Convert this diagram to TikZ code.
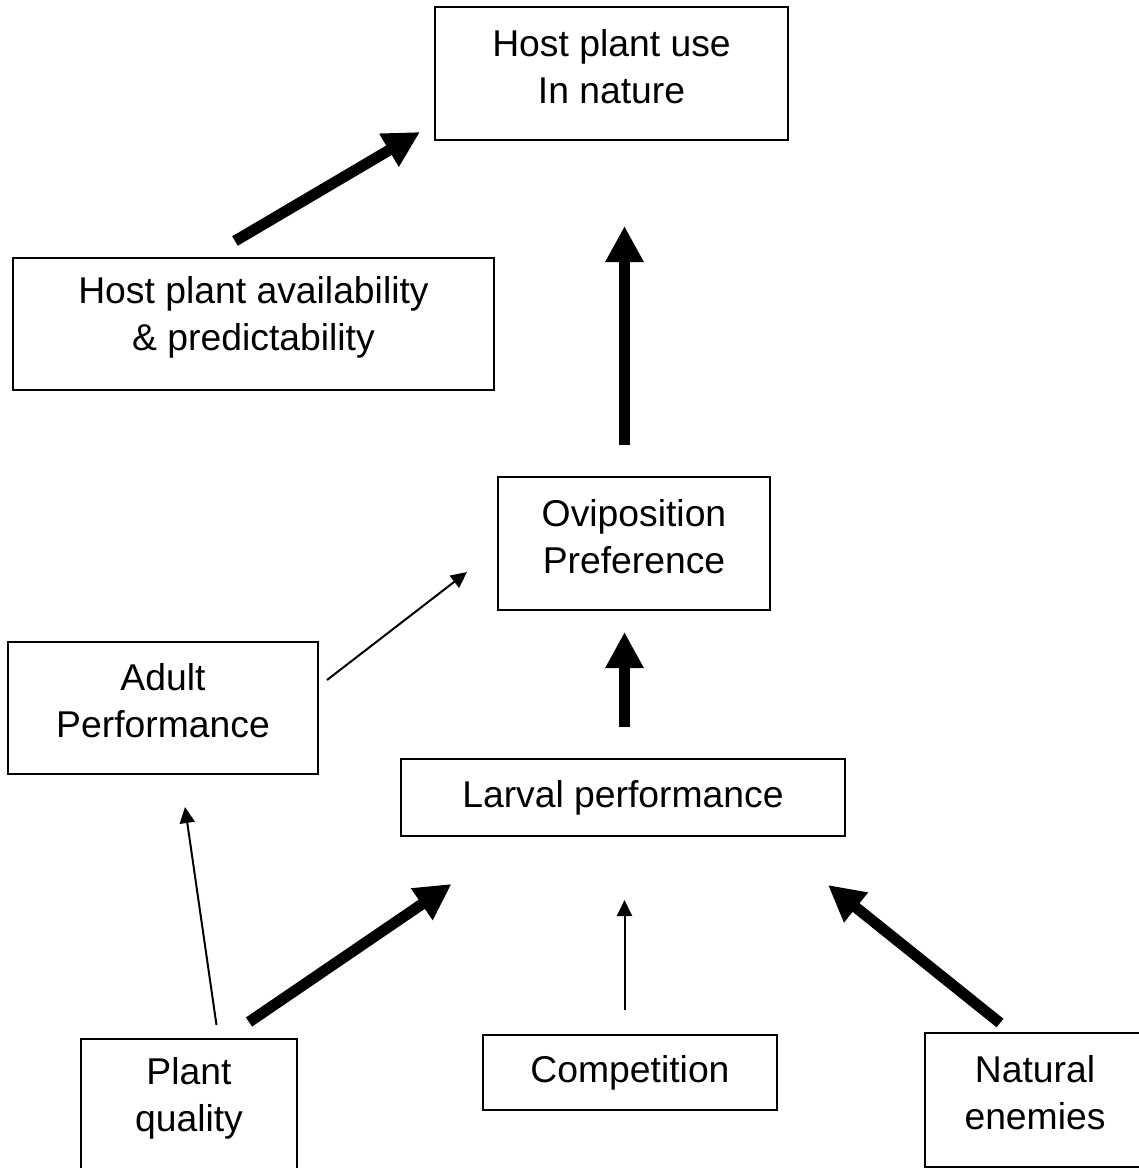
\documentclass[tikz,border=0pt]{standalone}
\usepackage{fontspec}
\setmainfont{Liberation Sans}
\usetikzlibrary{arrows.meta}
\begin{document}
\begin{tikzpicture}[x=1pt,y=-1pt,
  box/.style={draw=black, line width=2pt, inner sep=0pt},
  txt/.style={align=center, inner sep=0pt, font=\fontsize{37.3}{47}\selectfont},
  twoline/.style={txt, yshift=7pt},
  thick arrow/.style={line width=11pt, -{Triangle[width=36pt,length=36pt]}},
  thin arrow/.style={line width=2pt, -{Triangle[width=15pt,length=16pt]}}]
\useasboundingbox (0,0) rectangle (1139,1168);
\clip (0,0) rectangle (1139,1168);
\fill[white] (0,0) rectangle (1139,1168);
% boxes
\node[box, minimum width=353pt, minimum height=133pt] (host) at (611.5,73.5) {};
\node[box, minimum width=481pt, minimum height=132pt] (avail) at (253.5,324) {};
\node[box, minimum width=272pt, minimum height=133pt] (ovi) at (634,543.5) {};
\node[box, minimum width=310pt, minimum height=132pt] (adult) at (163,708) {};
\node[box, minimum width=444pt, minimum height=77pt] (larval) at (623,797.5) {};
\node[box, minimum width=216pt, minimum height=133pt] (plant) at (189,1105.5) {};
\node[box, minimum width=294pt, minimum height=75pt] (comp) at (630,1072.5) {};
\node[box, minimum width=220pt, minimum height=134pt] (nat) at (1035,1100) {};
% texts
\node[twoline] (hostT) at (host.center) {Host plant use\\In nature};
\node[twoline] (availT) at (avail.center) {Host plant availability\\\& predictability};
\node[twoline] (oviT) at (ovi.center) {Oviposition\\Preference};
\node[twoline] (adultT) at (adult.center) {Adult\\Performance};
\node[txt] (larvalT) at (larval.center) {Larval performance};
\node[twoline] (plantT) at (plant.center) {Plant\\quality};
\node[txt] (compT) at (comp.center) {Competition};
\node[twoline] (natT) at (nat.center) {Natural\\enemies};
% arrow ends
\coordinate (a1s) at (235,241);  \coordinate (a1e) at (420,132);
\coordinate (a2s) at (624.5,445); \coordinate (a2e) at (624.5,226);
\coordinate (a3s) at (624.5,727); \coordinate (a3e) at (624.5,632);
\coordinate (a4s) at (327,680);  \coordinate (a4e) at (467,572);
\coordinate (a5s) at (216.5,1025); \coordinate (a5e) at (185,807);
\coordinate (a6s) at (249,1022); \coordinate (a6e) at (451.5,884);
\coordinate (a7s) at (624.5,1010); \coordinate (a7e) at (624.5,900);
\coordinate (a8s) at (1000,1023); \coordinate (a8e) at (828,885);
% arrows
\draw[thick arrow] (a1s) -- (a1e);
\draw[thick arrow] (a2s) -- (a2e);
\draw[thick arrow] (a3s) -- (a3e);
\draw[thin arrow] (a4s) -- (a4e);
\draw[thin arrow] (a5s) -- (a5e);
\draw[thick arrow] (a6s) -- (a6e);
\draw[thin arrow] (a7s) -- (a7e);
\draw[thick arrow] (a8s) -- (a8e);
\end{tikzpicture}
\end{document}
